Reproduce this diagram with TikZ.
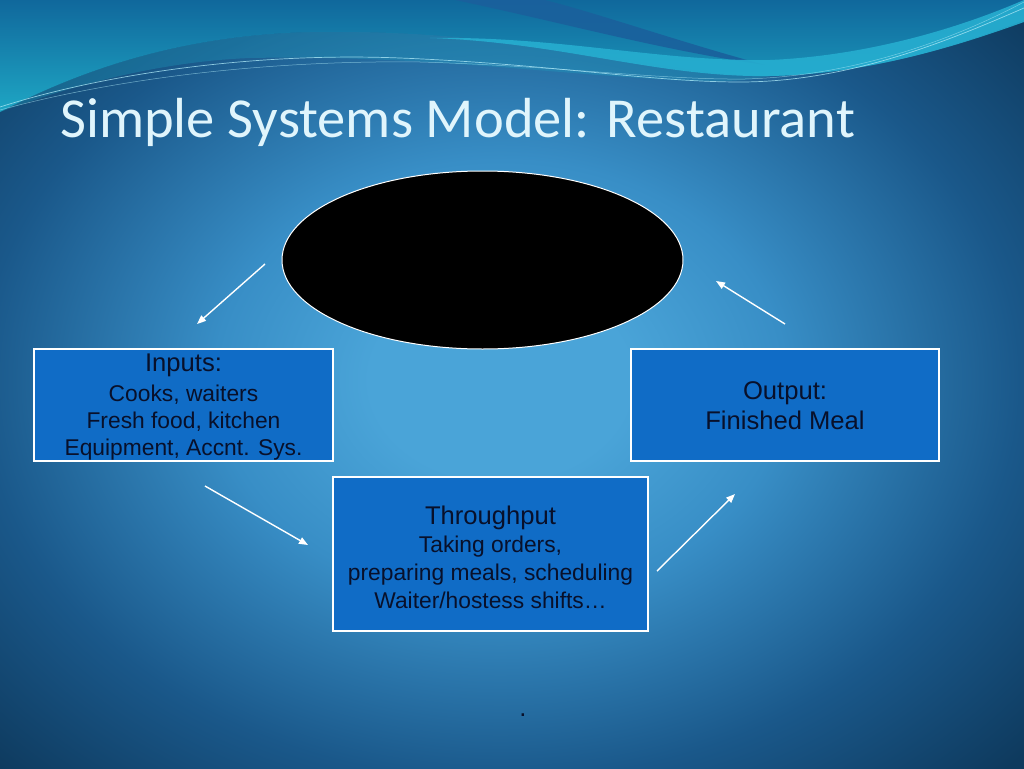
\documentclass[tikz,border=0pt]{standalone}
\usepackage{fontspec}
\setmainfont{Liberation Sans}
\newfontfamily\titlefont{Carlito}
\usetikzlibrary{shapes.geometric,arrows.meta}
\definecolor{bgin}{RGB}{74,164,216}
\definecolor{bgmid}{RGB}{56,142,198}
\definecolor{bgedge}{RGB}{26,88,138}
\definecolor{bgcorner}{RGB}{14,58,94}
\definecolor{tealtop}{RGB}{16,104,156}
\definecolor{tealbot}{RGB}{30,166,196}
\definecolor{streak}{RGB}{26,96,156}
\definecolor{cyanband}{RGB}{38,174,208}
\definecolor{thinline}{RGB}{170,230,245}
\definecolor{boxfill}{RGB}{16,108,198}
\definecolor{boxtext}{RGB}{8,16,42}
\definecolor{titlecol}{RGB}{224,245,252}
% 20bp = edge of the light area (520px across, 400px down)
\pgfdeclareradialshading{bgshade}{\pgfpoint{0bp}{0bp}}{%
  color(0bp)=(bgin); color(5bp)=(bgin); color(11bp)=(bgmid);
  color(20bp)=(bgedge); color(27.5bp)=(bgcorner); color(50bp)=(bgcorner)}
\tikzset{
  sysbox/.style={draw=white, line width=1.2pt, fill=boxfill, rectangle, inner sep=0pt},
  boxlabel/.style={align=center, text=boxtext, inner sep=0pt, font=\fontsize{22.8}{27}\selectfont},
  flow/.style={draw=white, line width=1.4pt, -{Triangle[width=7pt,length=9pt]}},
}
\begin{document}
\begin{tikzpicture}[x=1pt,y=-1pt]
\useasboundingbox (0,0) rectangle (1024,768);
\begin{scope}
\clip (0,0) rectangle (1024,768);
\fill[bgedge] (0,0) rectangle (1024,768);
\shade[shading=bgshade] (-150,-120) rectangle (1150,880);
% top teal region
\shade[top color=tealtop, bottom color=tealbot]
  (0,112) .. controls (90,65) and (190,35) .. (310,32)
  .. controls (420,30) and (520,42) .. (600,55)
  .. controls (680,68) and (720,76) .. (770,76)
  .. controls (870,74) and (960,45) .. (1024,20)
  -- (1024,0) -- (0,0) -- cycle;
% translucent band under the teal region
\fill[tealbot, opacity=0.3]
  (0,112) .. controls (90,65) and (190,35) .. (310,32)
  .. controls (420,30) and (520,42) .. (600,55)
  .. controls (680,68) and (720,76) .. (770,76)
  .. controls (740,83) and (700,82) .. (640,78)
  .. controls (520,70) and (400,55) .. (250,58)
  .. controls (150,62) and (60,90) .. (0,112) -- cycle;
% dark streak
\fill[streak, opacity=0.9]
  (455,0) .. controls (560,22) and (660,50) .. (765,65)
  .. controls (680,42) and (600,14) .. (545,0) -- cycle;
% bright cyan band
\fill[cyanband, opacity=0.9]
  (430,38) .. controls (560,42) and (660,78) .. (770,76)
  .. controls (870,74) and (960,45) .. (1024,22)
  -- (1024,0) .. controls (950,32) and (860,56) .. (770,60)
  .. controls (660,62) and (560,36) .. (430,38) -- cycle;
% thin light lines
\draw[thinline, line width=0.7pt, opacity=0.8]
  (0,107) .. controls (100,75) and (250,52) .. (400,58)
  .. controls (550,64) and (650,82) .. (740,82)
  .. controls (850,82) and (950,40) .. (1024,8);
\draw[thinline, line width=0.5pt, opacity=0.6]
  (0,110) .. controls (110,80) and (260,60) .. (420,62)
  .. controls (560,66) and (660,80) .. (745,79)
  .. controls (860,76) and (960,36) .. (1024,2);
\end{scope}

% title
\node[anchor=base west, inner sep=0pt, text=titlecol, font=\titlefont\fontsize{56.5}{66}\selectfont]
  (title) at (60,137) {Simple Systems Model: Restaurant};

% system
\node[ellipse, draw=white, line width=1pt, fill=black, minimum width=401pt, minimum height=178pt, inner sep=0pt]
  (sys) at (482.5,260) {};

\node[sysbox, minimum width=299pt, minimum height=112pt] (inputs) at (183.5,405) {};
\node[sysbox, minimum width=308pt, minimum height=112pt] (output) at (785,405) {};
\node[sysbox, minimum width=315pt, minimum height=154pt] (through) at (490.5,554) {};

\node[boxlabel] (inputsT) at (183.5,407.5)
  {{\fontsize{25.6}{30}\selectfont Inputs:}\\[3pt] Cooks, waiters\\ Fresh food, kitchen\\ Equipment, Accnt. Sys.};
\node[boxlabel, font=\fontsize{25.6}{30}\selectfont] (outputT) at (785,405.9)
  {Output:\\ Finished Meal};
\node[boxlabel, font=\fontsize{22.8}{27.7}\selectfont] (throughT) at (490.5,557)
  {{\fontsize{25.6}{30}\selectfont Throughput}\\[1pt] Taking orders,\\ preparing meals, scheduling\\ Waiter/hostess shifts…};

\node[anchor=base, inner sep=0pt, text=boxtext, font=\fontsize{25.6}{30}\selectfont] (dot) at (523,716) {.};

% arrows
\coordinate (a1s) at (265,264);
\coordinate (a1e) at (197,324);
\coordinate (a2s) at (785,324);
\coordinate (a2e) at (716,281);
\coordinate (a3s) at (205,486);
\coordinate (a3e) at (308,545);
\coordinate (a4s) at (657,571);
\coordinate (a4e) at (735,494);
\draw[flow] (a1s) -- (a1e);
\draw[flow] (a2s) -- (a2e);
\draw[flow] (a3s) -- (a3e);
\draw[flow] (a4s) -- (a4e);
\end{tikzpicture}
\end{document}
